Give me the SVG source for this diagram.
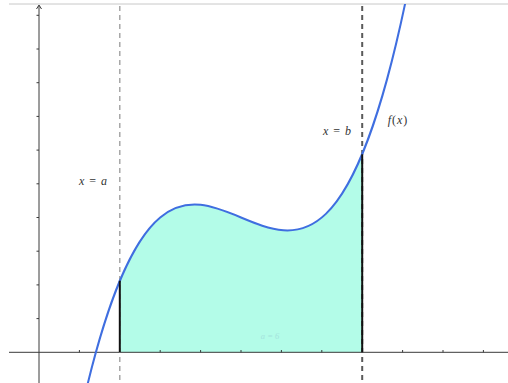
<svg xmlns="http://www.w3.org/2000/svg" width="508" height="383" viewBox="0 0 508 383">
  <style>
    .axis { stroke: #3a3a3a; stroke-width: 1; fill: none; }
    .tick { stroke: #3a3a3a; stroke-width: 1; }
    .lbl { font-family: "Liberation Serif", "DejaVu Serif", serif; font-size: 12px; fill: #333; word-spacing: 2px; }
    .it { font-style: italic; }
  </style>
  <defs>
    <clipPath id="plot"><rect x="0" y="4" width="508" height="379"/></clipPath>
  </defs>
  <rect width="508" height="383" fill="#ffffff"/>
  <line x1="9" y1="4" x2="508" y2="4" stroke="#c8c8c8" stroke-width="1"/>

  <g id="area">
    <path d="M119.8,352.3 L119.8,280.7 C200.6,86.9 281.4,348.1 362.2,154.3 L362.2,352.3 Z" fill="#b3fce8"/>
    <text x="270" y="339" text-anchor="middle" font-family="Liberation Serif, serif" font-size="8.5" font-style="italic" fill="#a3e3dc">a = 6</text>
  </g>

  <g id="axes">
    <line class="axis" x1="9" y1="352.3" x2="508" y2="352.3"/>
    <line class="axis" x1="39" y1="6" x2="39" y2="383"/>
    <path d="M36.5,9 L39,5 L41.5,9" fill="none" stroke="#3a3a3a" stroke-width="1"/>
    <g class="tick">
      <line x1="79.4" y1="350" x2="79.4" y2="352.3"/>
      <line x1="160.2" y1="350" x2="160.2" y2="352.3"/>
      <line x1="200.6" y1="350" x2="200.6" y2="352.3"/>
      <line x1="241" y1="350" x2="241" y2="352.3"/>
      <line x1="281.4" y1="350" x2="281.4" y2="352.3"/>
      <line x1="321.8" y1="350" x2="321.8" y2="352.3"/>
      <line x1="402.6" y1="350" x2="402.6" y2="352.3"/>
      <line x1="443" y1="350" x2="443" y2="352.3"/>
      <line x1="483.4" y1="350" x2="483.4" y2="352.3"/>
      <line x1="36.5" y1="318.6" x2="39" y2="318.6"/>
      <line x1="36.5" y1="284.9" x2="39" y2="284.9"/>
      <line x1="36.5" y1="251.2" x2="39" y2="251.2"/>
      <line x1="36.5" y1="217.5" x2="39" y2="217.5"/>
      <line x1="36.5" y1="183.8" x2="39" y2="183.8"/>
      <line x1="36.5" y1="150.1" x2="39" y2="150.1"/>
      <line x1="36.5" y1="116.4" x2="39" y2="116.4"/>
      <line x1="36.5" y1="82.7" x2="39" y2="82.7"/>
      <line x1="36.5" y1="49" x2="39" y2="49"/>
      <line x1="36.5" y1="15.3" x2="39" y2="15.3"/>
    </g>
  </g>

  <g id="connectors">
    <line id="line-a" x1="119.8" y1="6" x2="119.8" y2="383" stroke="#9a9a9a" stroke-width="1.3" stroke-dasharray="5,4"/>
    <line id="line-b" x1="362.2" y1="6" x2="362.2" y2="383" stroke="#5a5a5a" stroke-width="2" stroke-dasharray="5,4"/>
  </g>

  <g id="curve" clip-path="url(#plot)">
    <path d="M79.4,419.7 C189.8,-86.9 300.3,539.4 410.7,-23.8" fill="none" stroke="#3f6ee0" stroke-width="2"/>
  </g>

  <g id="edges">
    <line x1="119.8" y1="352.3" x2="119.8" y2="280.7" stroke="#111" stroke-width="2"/>
    <line x1="362.2" y1="352.3" x2="362.2" y2="154.3" stroke="#111" stroke-width="2"/>
  </g>

  <g id="labels">
    <text class="lbl" x="93" y="185" text-anchor="middle"><tspan class="it">x</tspan> = <tspan class="it">a</tspan></text>
    <text class="lbl" x="337" y="135" text-anchor="middle"><tspan class="it">x</tspan> = <tspan class="it">b</tspan></text>
    <text class="lbl" x="398" y="124" text-anchor="middle" letter-spacing="1"><tspan class="it">f</tspan>(<tspan class="it">x</tspan>)</text>
  </g>
</svg>
